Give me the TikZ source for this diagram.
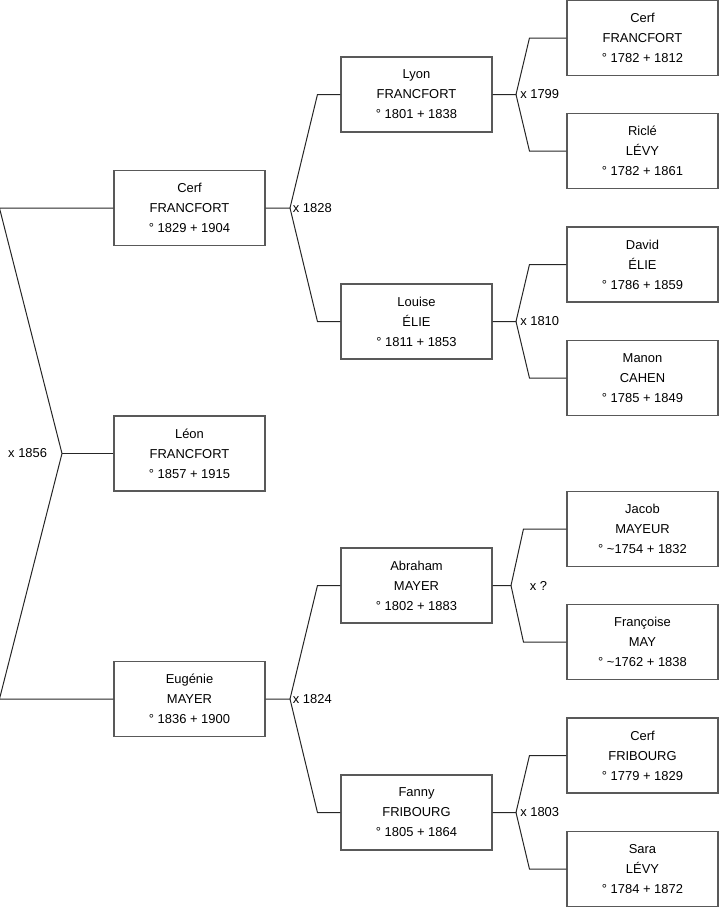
\documentclass[tikz,border=0pt]{standalone}
\usepackage{fontspec}
\setmainfont{Liberation Sans}
\usepackage{tikz}
\usetikzlibrary{positioning, calc}

\begin{document}
\begin{tikzpicture}[x=0.75pt, y=-0.75pt,
    person/.style={rectangle, draw=black!65, line width=0.8pt, fill=white,
                   minimum width=113.25pt, minimum height=56.25pt, inner sep=0pt,
                   align=center, font=\fontsize{9.7pt}{15pt}\selectfont},
    link/.style={draw=black!85, line width=0.75pt},
    wed/.style={font=\fontsize{9.7pt}{11pt}\selectfont, inner sep=1pt}
]
\useasboundingbox (0,0) rectangle (719,908);

% generation 1 and 2
\node[person] (leon)    at (189.5,453.5) {Léon\\FRANCFORT\\° 1857 + 1915};
\node[person] (cerfP)   at (189.5,208)   {Cerf\\FRANCFORT\\° 1829 + 1904};
\node[person] (eugenie) at (189.5,699)   {Eugénie\\MAYER\\° 1836 + 1900};

% generation 3
\node[person] (lyon)    at (416.5,94.5)  {Lyon\\FRANCFORT\\° 1801 + 1838};
\node[person] (louise)  at (416.5,321.5) {Louise\\ÉLIE\\° 1811 + 1853};
\node[person] (abraham) at (416.5,585.5) {Abraham\\MAYER\\° 1802 + 1883};
\node[person] (fanny)   at (416.5,812.5) {Fanny\\FRIBOURG\\° 1805 + 1864};

% generation 4
\node[person] (cerfL)     at (642.5,38)    {Cerf\\FRANCFORT\\° 1782 + 1812};
\node[person] (ricle)     at (642.5,151)   {Riclé\\LÉVY\\° 1782 + 1861};
\node[person] (david)     at (642.5,264.5) {David\\ÉLIE\\° 1786 + 1859};
\node[person] (manon)     at (642.5,378)   {Manon\\CAHEN\\° 1785 + 1849};
\node[person] (jacob)     at (642.5,529)   {Jacob\\MAYEUR\\° \textasciitilde1754 + 1832};
\node[person] (francoise) at (642.5,642)   {Françoise\\MAY\\° \textasciitilde1762 + 1838};
\node[person] (cerfF)     at (642.5,755.5) {Cerf\\FRIBOURG\\° 1779 + 1829};
\node[person] (sara)      at (642.5,869)   {Sara\\LÉVY\\° 1784 + 1872};

% fork points
\coordinate (m-leon)    at (62,453.5);
\coordinate (m-cerfP)   at (290,208);
\coordinate (m-eugenie) at (290,699);
\coordinate (m-lyon)    at (516,94.5);
\coordinate (m-louise)  at (516,321.5);
\coordinate (m-abraham) at (511,585.5);
\coordinate (m-fanny)   at (516,812.5);

% parents of Léon
\draw[link] (leon.west) -- (m-leon);
\draw[link] (cerfP.west) -- ++(-114,0) -- (m-leon) -- ($(eugenie.west)+(-114,0)$) -- (eugenie.west);
\node[wed, anchor=east] at ([xshift=-10pt]m-leon) {x 1856};

% parents of Cerf and Eugénie
\foreach \kid/\up/\down/\lab in {cerfP/lyon/louise/x 1828, eugenie/abraham/fanny/x 1824}{
  \draw[link] (\kid.east) -- (m-\kid) -- ($(\up.west)+(-23,0)$) -- (\up.west);
  \draw[link] (m-\kid) -- ($(\down.west)+(-23,0)$) -- (\down.west);
  \node[wed, anchor=west] at ([xshift=1pt]m-\kid) {\lab};
}

% parents of generation 3
\foreach \kid/\up/\down/\lab in {lyon/cerfL/ricle/x 1799, louise/david/manon/x 1810, fanny/cerfF/sara/x 1803}{
  \draw[link] (\kid.east) -- (m-\kid) -- ($(\up.west)+(-37,0)$) -- (\up.west);
  \draw[link] (m-\kid) -- ($(\down.west)+(-37,0)$) -- (\down.west);
  \node[wed, anchor=west] at ([xshift=2pt]m-\kid) {\lab};
}
\draw[link] (abraham.east) -- (m-abraham) -- ($(jacob.west)+(-43,0)$) -- (jacob.west);
\draw[link] (m-abraham) -- ($(francoise.west)+(-43,0)$) -- (francoise.west);
\node[wed, anchor=west] at ([xshift=13pt]m-abraham) {x ?};
\end{tikzpicture}
\end{document}
